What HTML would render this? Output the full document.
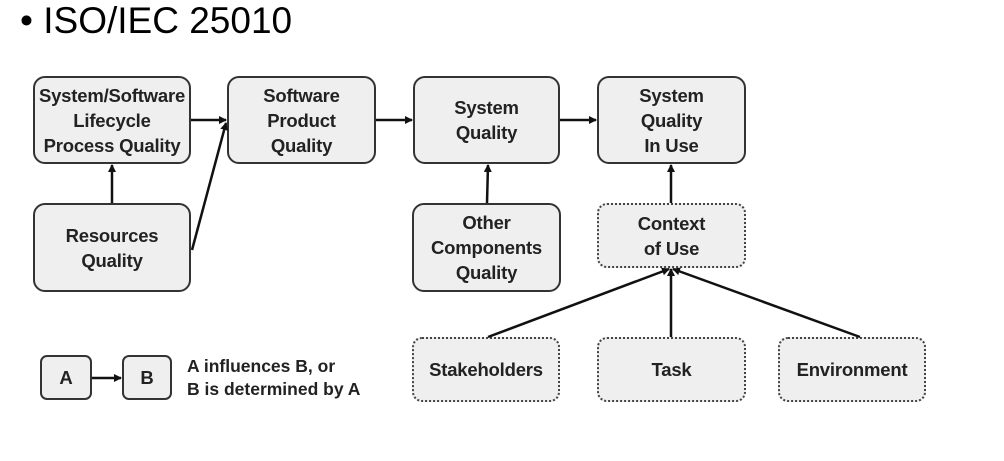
<!DOCTYPE html>
<html><head><style>
body{margin:0;width:1004px;height:461px;background:#fff;overflow:hidden;position:relative;font-family:"Liberation Sans",Arial,sans-serif}
.t{position:absolute;left:20px;top:0px;font-size:37px;color:#000}
.b{position:absolute;box-sizing:border-box;background:#efefef;border:2px solid #333;border-radius:12px;display:flex;align-items:center;justify-content:center;text-align:center;font-weight:bold;font-size:18.5px;line-height:25px;color:#222;letter-spacing:-0.2px}
.d{border:2px dotted #444;border-radius:10px}
.l{position:absolute;left:187px;top:355px;font-weight:bold;font-size:17.5px;line-height:23px;color:#222}
svg{position:absolute;left:0;top:0}
</style></head><body>
<div class="t">• ISO/IEC 25010</div>
<div class="b" style="left:33px;top:76px;width:158px;height:88px">System/Software<br>Lifecycle<br>Process Quality</div>
<div class="b" style="left:227px;top:76px;width:149px;height:88px">Software<br>Product<br>Quality</div>
<div class="b" style="left:413px;top:76px;width:147px;height:88px">System<br>Quality</div>
<div class="b" style="left:597px;top:76px;width:149px;height:88px">System<br>Quality<br>In Use</div>
<div class="b" style="left:33px;top:203px;width:158px;height:89px">Resources<br>Quality</div>
<div class="b" style="left:412px;top:203px;width:149px;height:89px">Other<br>Components<br>Quality</div>
<div class="b d" style="left:597px;top:203px;width:149px;height:65px">Context<br>of Use</div>
<div class="b d" style="left:412px;top:337px;width:148px;height:65px">Stakeholders</div>
<div class="b d" style="left:597px;top:337px;width:149px;height:65px">Task</div>
<div class="b d" style="left:778px;top:337px;width:148px;height:65px">Environment</div>
<div class="b" style="left:40px;top:355px;width:52px;height:45px;border-radius:7px">A</div>
<div class="b" style="left:122px;top:355px;width:50px;height:45px;border-radius:7px">B</div>
<div class="l">A influences B, or<br>B is determined by A</div>
<svg width="1004" height="461">
<defs><marker id="a" markerWidth="8" markerHeight="8" refX="7" refY="4" orient="auto" markerUnits="userSpaceOnUse"><path d="M0,0L8,4L0,8z" fill="#111"/></marker></defs>
<g stroke="#111" stroke-width="2.5" fill="none" marker-end="url(#a)">
<line x1="191" y1="120" x2="226" y2="120"/>
<line x1="112" y1="203" x2="112" y2="165"/>
<line x1="192" y1="250" x2="226" y2="123"/>
<line x1="376" y1="120" x2="412" y2="120"/>
<line x1="560" y1="120" x2="596" y2="120"/>
<line x1="487" y1="203" x2="488" y2="165"/>
<line x1="671" y1="203" x2="671" y2="165"/>
<line x1="488" y1="337" x2="669" y2="269"/>
<line x1="671" y1="337" x2="671" y2="269"/>
<line x1="860" y1="337" x2="673" y2="269"/>
<line x1="92" y1="378" x2="121" y2="378"/>
</g></svg>
</body></html>
